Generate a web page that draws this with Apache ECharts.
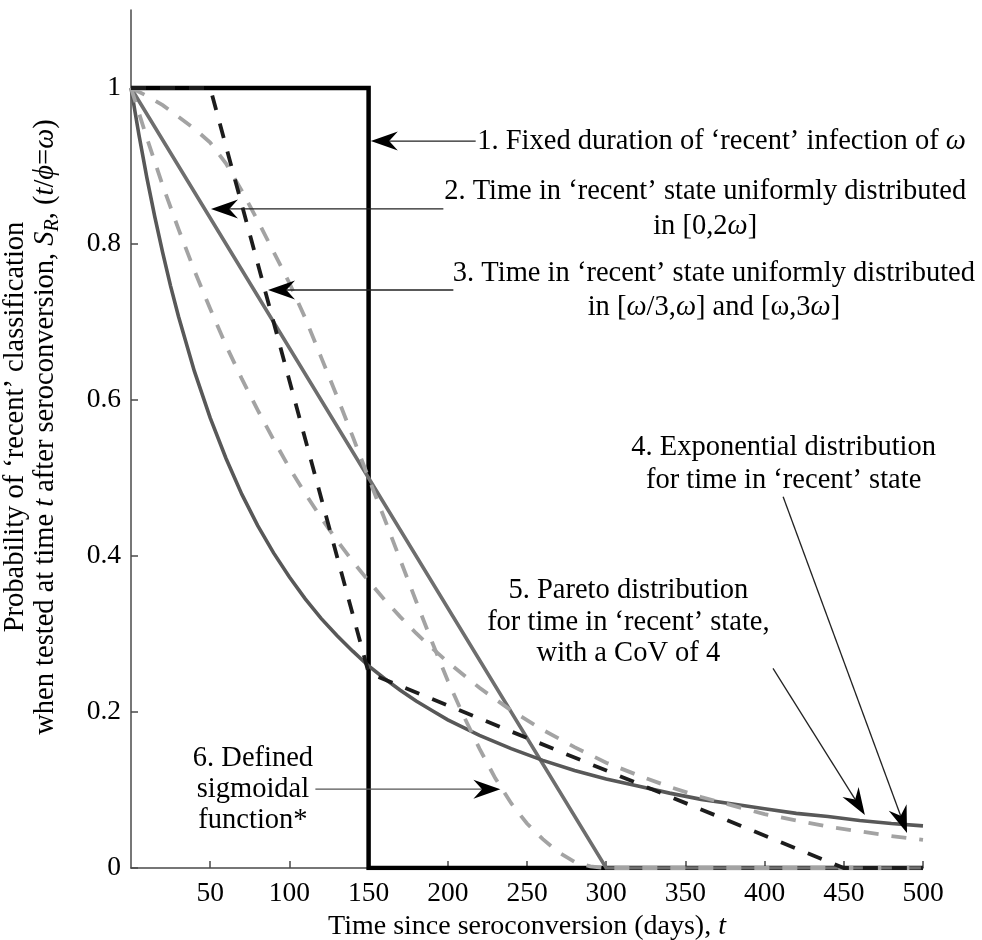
<!DOCTYPE html>
<html><head><meta charset="utf-8">
<script src="https://cdn.jsdelivr.net/npm/echarts@6/dist/echarts.min.js"></script>
<style>html,body{margin:0;padding:0;background:#fff}#c{width:982px;height:940px}</style>
</head><body><div id="c"></div>
<script>
// ---- tick labels ----
const xTickValues = [50, 100, 150, 200, 250, 300, 350, 400, 450, 500];
const yTickValues = [0, 0.2, 0.4, 0.6, 0.8, 1];

// ---- 1. fixed duration ----
const fixedT = [0, 150, 150, 500];
const fixedS = [1, 1, 0, 0];
// ---- 2. uniform in [0, 2w] ----
const uniformT = [0, 300, 500];
const uniformS = [1, 0, 0];
// ---- 3. uniform in [w/3, w] and [w, 3w] ----
const mixT = [0, 50, 150, 450, 500];
const mixS = [1, 1, 0.25, 0, 0];
// ---- 4. exponential ----
const expT = [0, 10, 20, 30, 40, 50, 60, 70, 80, 90, 100, 110, 120, 130, 140, 150, 160, 170, 180, 190, 200, 220, 240, 260, 280, 300, 320, 340, 360, 380, 400, 420, 440, 460, 480, 500];
const expS = [1, 0.936, 0.875, 0.819, 0.766, 0.717, 0.670, 0.627, 0.587, 0.549, 0.513, 0.480, 0.449, 0.420, 0.393, 0.368, 0.344, 0.322, 0.301, 0.282, 0.264, 0.231, 0.202, 0.177, 0.155, 0.135, 0.119, 0.104, 0.091, 0.080, 0.069, 0.061, 0.053, 0.047, 0.041, 0.036];
// ---- 5. Pareto, CoV 4 ----
const paretoT = [0, 5, 10, 15, 20, 25, 30, 40, 50, 60, 70, 80, 90, 100, 110, 120, 130, 140, 150, 160, 170, 180, 190, 200, 220, 240, 260, 280, 300, 320, 340, 360, 380, 400, 420, 440, 460, 480, 500];
const paretoS = [1, 0.940, 0.885, 0.835, 0.789, 0.746, 0.707, 0.637, 0.577, 0.525, 0.479, 0.439, 0.404, 0.373, 0.345, 0.320, 0.298, 0.278, 0.259, 0.243, 0.228, 0.214, 0.202, 0.190, 0.170, 0.153, 0.138, 0.125, 0.114, 0.105, 0.096, 0.088, 0.082, 0.076, 0.070, 0.066, 0.061, 0.057, 0.054];
// ---- 6. defined sigmoidal function ----
const sigT = [0, 10, 20, 30, 40, 50, 60, 70, 80, 90, 100, 110, 120, 130, 140, 150, 160, 170, 180, 190, 200, 210, 220, 230, 240, 250, 260, 270, 280, 290, 300, 500];
const sigS = [1, 0.99, 0.978, 0.963, 0.948, 0.93, 0.903, 0.868, 0.83, 0.79, 0.75, 0.705, 0.655, 0.605, 0.553, 0.5, 0.448, 0.395, 0.342, 0.29, 0.24, 0.195, 0.153, 0.115, 0.083, 0.057, 0.037, 0.02, 0.008, 0.002, 0, 0];

const FONT = 'Liberation Serif';
const FS_TICK = 27.5;
const FS_NAME = 28;
const FS_NOTE = 28.5;

function pairs(t, s) { return t.map((v, i) => [v, s[i]]); }
function lineSeries(name, t, s, color, type, width, z) {
  return {
    name, type: 'line', data: pairs(t, s), showSymbol: false, symbol: 'none',
    lineStyle: { color, width, type, cap: 'butt', join: 'miter' },
    z, silent: true, animation: false
  };
}

const axisColor = '#4a4a4a';
const chart = echarts.init(document.getElementById('c'), null, { renderer: 'canvas' });

const option = {
  animation: false,
  backgroundColor: '#fff',
  grid: { left: 131, right: 59, top: 10, bottom: 72, containLabel: false, outerBoundsMode: 'none' },
  xAxis: {
    type: 'value', min: 0, max: 500,
    axisLine: { show: true, onZero: false, lineStyle: { color: axisColor, width: 1.5 } },
    axisTick: { show: true, inside: true, length: 7, customValues: xTickValues, lineStyle: { color: axisColor, width: 1.5 } },
    axisLabel: { customValues: xTickValues, fontFamily: FONT, fontSize: FS_TICK, color: '#000', margin: 12 },
    splitLine: { show: false },
    name: 'Time since seroconversion (days), {i|t}',
    nameLocation: 'middle', nameGap: 44,
    nameTextStyle: { fontFamily: FONT, fontSize: FS_NAME, color: '#000',
      rich: { i: { fontFamily: FONT, fontSize: FS_NAME, fontStyle: 'italic', color: '#000' } } }
  },
  yAxis: {
    type: 'value', min: 0, max: 1.1,
    axisLine: { show: true, onZero: false, lineStyle: { color: axisColor, width: 1.5 } },
    axisTick: { show: true, inside: true, length: 7, customValues: yTickValues, lineStyle: { color: axisColor, width: 1.5 } },
    axisLabel: { customValues: yTickValues, fontFamily: FONT, fontSize: FS_TICK, color: '#000', margin: 10 },
    splitLine: { show: false }
  },
  series: [
    lineSeries('Fixed duration', fixedT, fixedS, '#000000', 'solid', 4.5, 2),
    lineSeries('Uniform [0,2w]', uniformT, uniformS, '#6e6e6e', 'solid', 3.6, 3),
    lineSeries('Pareto', paretoT, paretoS, '#585858', 'solid', 3.6, 4),
    lineSeries('Exponential', expT, expS, '#a3a3a3', [15, 13], 3.8, 5),
    lineSeries('Sigmoidal', sigT, sigS, '#a3a3a3', [15, 13], 3.8, 6),
    lineSeries('Uniform [w/3,w],[w,3w]', mixT, mixS, '#1c1c1c', [15, 14], 3.8, 7)
  ]
};
chart.setOption(option);

// ---- annotations (data coordinates) ----
const richStyles = {
  i: { fontFamily: FONT, fontSize: FS_NOTE, fontStyle: 'italic', fill: '#000' }
};
const notes = [
  { text: '1. Fixed duration of ‘recent’ infection of {i|ω}', at: [218.6, 0.931], align: 'left', lh: 34,
    tail: [217.6, 0.932], tip: [151.4, 0.932], lineColor: '#222' },
  { text: '2. Time in ‘recent’ state uniformly distributed\nin [0,2{i|ω}]', at: [362.5, 0.845], align: 'center', lh: 35,
    tail: [197.2, 0.845], tip: [50.5, 0.845], lineColor: '#222' },
  { text: '3. Time in ‘recent’ state uniformly distributed\nin [{i|ω}/3,{i|ω}] and [ω,3{i|ω}]', at: [368, 0.741], align: 'center', lh: 34,
    tail: [203.5, 0.741], tip: [86.5, 0.741], lineColor: '#222' },
  { text: '4. Exponential distribution\nfor time in ‘recent’ state', at: [412, 0.518], align: 'center', lh: 33,
    tail: [411.7, 0.476], tip: [489.9, 0.045], lineColor: '#222' },
  { text: '5. Pareto distribution\nfor time in ‘recent’ state,\nwith a CoV of 4', at: [314, 0.315], align: 'center', lh: 31.5,
    tail: [405.3, 0.256], tip: [463.3, 0.068], lineColor: '#222' },
  { text: '6. Defined\nsigmoidal\nfunction*', at: [77, 0.101], align: 'center', lh: 31,
    tail: [116.4, 0.101], tip: [233.2, 0.101], lineColor: '#555' }
];

const px = p => chart.convertToPixel({ gridIndex: 0 }, p);
const graphics = [];
notes.forEach(n => {
  const a = px(n.at);
  graphics.push({
    type: 'text', x: a[0], y: a[1], z: 100, silent: true,
    style: { text: n.text, fontFamily: FONT, fontSize: FS_NOTE, fill: '#000', align: n.align,
      verticalAlign: 'middle', lineHeight: n.lh, rich: richStyles }
  });
  const P = px(n.tip), Q = px(n.tail);
  const dx = P[0] - Q[0], dy = P[1] - Q[1];
  const len = Math.hypot(dx, dy);
  const ux = dx / len, uy = dy / len, nx = -uy, ny = ux;
  const L = 27, W = 9.5, N = 0.68 * L;
  const notch = [P[0] - N * ux, P[1] - N * uy];
  graphics.push({
    type: 'line', z: 100, silent: true,
    shape: { x1: Q[0], y1: Q[1], x2: notch[0], y2: notch[1] },
    style: { stroke: n.lineColor, lineWidth: 1.3 }
  });
  graphics.push({
    type: 'polygon', z: 101, silent: true,
    shape: { points: [P, [P[0] - L * ux + W * nx, P[1] - L * uy + W * ny], notch, [P[0] - L * ux - W * nx, P[1] - L * uy - W * ny]] },
    style: { fill: '#000' }
  });
});

// y-axis title
graphics.push({
  type: 'text', x: 33, y: 427, rotation: Math.PI / 2, z: 100, silent: true,
  style: {
    text: 'Probability of ‘recent’ classification\nwhen tested at time {i|t} after seroconversion, {i|S}{sub|R}, ({i|t}/{i|ϕ}={i|ω})',
    fontFamily: FONT, fontSize: FS_NOTE, fill: '#000', align: 'center', verticalAlign: 'middle', lineHeight: 25,
    rich: {
      i: { fontFamily: FONT, fontSize: FS_NOTE, fontStyle: 'italic', fill: '#000' },
      sub: { fontFamily: FONT, fontSize: 20, fontStyle: 'italic', fill: '#000', verticalAlign: 'bottom', lineHeight: 35 }
    }
  }
});

chart.setOption({ graphic: graphics });
</script>
</body></html>
